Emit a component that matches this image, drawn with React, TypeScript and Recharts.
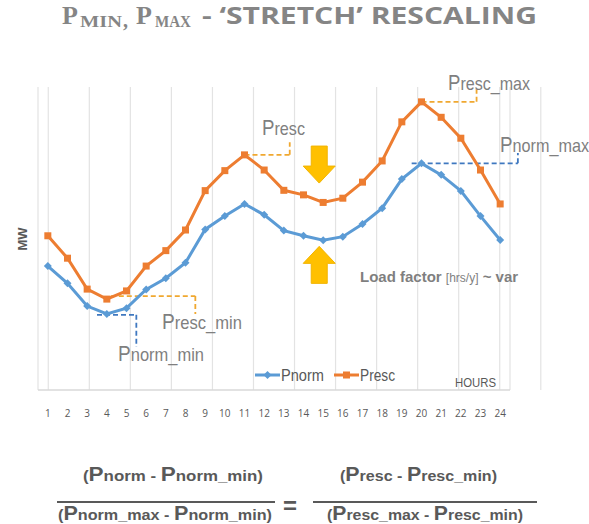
import React from 'react';
import { LineChart, Line, XAxis, YAxis, CartesianGrid, Legend, ReferenceLine, ReferenceDot } from 'recharts';

const hours = [1, 2, 3, 4, 5, 6, 7, 8, 9, 10, 11, 12, 13, 14, 15, 16, 17, 18, 19, 20, 21, 22, 23, 24];
const pNorm = [40.9, 35.2, 27.7, 25.1, 27.0, 33.2, 36.9, 42.0, 53.0, 57.4, 61.4, 57.8, 52.6, 50.9, 49.4, 50.6, 54.8, 60.0, 69.6, 74.8, 71.0, 65.7, 57.4, 49.5];
const pResc = [50.9, 43.5, 33.3, 30.0, 32.7, 40.9, 46.0, 52.8, 65.8, 72.4, 77.6, 72.6, 65.9, 64.4, 61.9, 63.3, 68.6, 75.6, 88.5, 95.1, 90.0, 83.1, 72.6, 61.4];
const gridTicks = [0.5, 1.5, 2.5, 3.5, 4.5, 5.5, 6.5, 7.5, 8.5, 9.5, 10.5, 11.5, 12.5, 13.5, 14.5, 15.5, 16.5, 17.5, 18.5, 19.5, 20.5, 21.5, 22.5, 23.5, 24.5];

// dashed leader lines: [hour, MW] corner points
const rescLeaders = [
  [[11, 77.6], [13.3, 77.6], [13.3, 81.8]],
  [[20, 95.1], [22.8, 95.1], [22.8, 99.7]],
  [[4.2, 31.0], [8.5, 31.0], [8.5, 25.1]],
];
const normLeaders = [
  [[19.5, 74.8], [24.9, 74.8], [24.9, 78.2]],
  [[3.5, 24.8], [5.5, 24.8], [5.5, 14.2]],
];
const arrows = [
  { hour: 14.8, mw: 74.4, dir: 'down' },
  { hour: 14.8, mw: 41.3, dir: 'up' },
];

const data = hours.map((h, i) => ({ hour: h, Pnorm: pNorm[i], Presc: pResc[i] }));

const BLUE = '#5B9BD5';
const ORANGE = '#ED7D31';
const GOLD = '#F0A830';
const DASH_BLUE = '#3F78C0';
const GREY = '#7f7f7f';
const DARK = '#595959';

const SquareDot = (props: any) => {
  const { cx, cy, index } = props;
  return <rect key={`s${index}`} x={cx - 3.5} y={cy - 3.5} width={7} height={7} fill={ORANGE} />;
};

const DiamondDot = (props: any) => {
  const { cx, cy, index } = props;
  return (
    <path key={`d${index}`} d={`M${cx},${cy - 4} L${cx + 4},${cy} L${cx},${cy + 4} L${cx - 4},${cy} Z`} fill={BLUE} />
  );
};

const Arrow = (dir: string) => (props: any) => {
  const { cx, cy } = props;
  const s = dir === 'down' ? 1 : -1;
  const d = [
    [cx - 8, cy - 18.5 * s],
    [cx + 8, cy - 18.5 * s],
    [cx + 8, cy + 1.5 * s],
    [cx + 16, cy + 1.5 * s],
    [cx, cy + 18.5 * s],
    [cx - 16, cy + 1.5 * s],
    [cx - 8, cy + 1.5 * s],
  ]
    .map((p, i) => `${i ? 'L' : 'M'}${p[0]},${p[1]}`)
    .join(' ');
  return <path d={d + ' Z'} fill="#FFC000" stroke="#F2B400" strokeWidth={1} />;
};

const LegendContent = (props: any) => {
  const items = props.payload || [];
  return (
    <svg width={150} height={20}>
      {items.map((it: any, i: number) => {
        const x0 = i * 79;
        const isBlue = it.value === 'Pnorm';
        return (
          <g key={it.value}>
            <line x1={x0 + 2} y1={10} x2={x0 + 27} y2={10} stroke={it.color} strokeWidth={3} />
            {isBlue ? (
              <path d={`M${x0 + 14.5},6 L${x0 + 18.5},10 L${x0 + 14.5},14 L${x0 + 10.5},10 Z`} fill={it.color} />
            ) : (
              <rect x={x0 + 11} y={6.5} width={7} height={7} fill={it.color} />
            )}
            <text x={x0 + 28} y={16} fontSize={16} fill={DARK} fontFamily="Liberation Sans, Arial, sans-serif" textLength={isBlue ? 43 : 35} lengthAdjust="spacingAndGlyphs">
              {it.value}
            </text>
          </g>
        );
      })}
    </svg>
  );
};

const annFont = 'Liberation Sans, Arial, sans-serif';

const Label = ({ x, y, sub, w }: { x: number; y: number; sub: string; w: number }) => (
  <text x={x} y={y} fontSize={22} fill={GREY} fontFamily={annFont} textLength={w} lengthAdjust="spacingAndGlyphs">
    P<tspan fontSize={19}>{sub}</tspan>
  </text>
);

const Frac = ({ x, y, parts, w }: { x: number; y: number; parts: string[]; w: number }) => (
  <text x={x} y={y} fontSize={15} fontWeight="bold" fill={DARK} fontFamily={annFont} textLength={w} lengthAdjust="spacingAndGlyphs">
    {parts.map((p, i) =>
      p === 'P' ? (
        <tspan key={i} fontSize={20}>P</tspan>
      ) : (
        <tspan key={i}>{p}</tspan>
      )
    )}
  </text>
);

export default function App() {
  return (
    <div style={{ position: 'absolute', left: 0, top: 0, width: 589, height: 524, background: '#fff', overflow: 'hidden' }}>
      <LineChart width={589} height={524} data={data} margin={{ top: 87, right: 79, left: 38, bottom: 104 }}>
        <CartesianGrid xAxisId="grid" horizontal={false} stroke="#e3e3e3" strokeWidth={1.2} />
        <XAxis
          dataKey="hour"
          type="number"
          domain={[0.5, 24.5]}
          ticks={hours}
          interval={0}
          height={30}
          axisLine={{ stroke: '#d9d9d9', strokeWidth: 1.5 }}
          tickLine={false}
          tickMargin={14}
          tick={{ fill: DARK, fontSize: 10, fontFamily: 'Open Sans, sans-serif' }}
        />
        <XAxis xAxisId="grid" type="number" domain={[0.5, 24.5]} ticks={gridTicks} hide />
        <YAxis hide domain={[0, 100]} />
        <Legend
          layout="horizontal"
          verticalAlign="middle"
          align="center"
          content={LegendContent}
          wrapperStyle={{ left: 253, top: 365, width: 160 }}
        />
        {rescLeaders.map((pts, i) => (
          <React.Fragment key={`r${i}`}>
            <ReferenceLine segment={[{ x: pts[0][0], y: pts[0][1] }, { x: pts[1][0], y: pts[1][1] }]} stroke={GOLD} strokeWidth={1.8} strokeDasharray="5 3" ifOverflow="visible" />
            <ReferenceLine segment={[{ x: pts[1][0], y: pts[1][1] }, { x: pts[2][0], y: pts[2][1] }]} stroke={GOLD} strokeWidth={1.8} strokeDasharray="5 3" ifOverflow="visible" />
          </React.Fragment>
        ))}
        {normLeaders.map((pts, i) => (
          <React.Fragment key={`n${i}`}>
            <ReferenceLine segment={[{ x: pts[0][0], y: pts[0][1] }, { x: pts[1][0], y: pts[1][1] }]} stroke={DASH_BLUE} strokeWidth={1.8} strokeDasharray="5 3" ifOverflow="visible" />
            <ReferenceLine segment={[{ x: pts[1][0], y: pts[1][1] }, { x: pts[2][0], y: pts[2][1] }]} stroke={DASH_BLUE} strokeWidth={1.8} strokeDasharray="5 3" ifOverflow="visible" />
          </React.Fragment>
        ))}
        {arrows.map((a) => (
          <ReferenceDot key={a.dir} x={a.hour} y={a.mw} r={18} shape={Arrow(a.dir)} ifOverflow="visible" />
        ))}
        <Line dataKey="Pnorm" stroke={BLUE} strokeWidth={3} dot={DiamondDot} activeDot={false} isAnimationActive={false} />
        <Line dataKey="Presc" stroke={ORANGE} strokeWidth={3} dot={SquareDot} activeDot={false} isAnimationActive={false} />
      </LineChart>

      <svg width={589} height={524} style={{ position: 'absolute', left: 0, top: 0, pointerEvents: 'none' }}>
        {/* title */}
        <g fill="#858585" fontWeight="bold">
          <text x={62} y={24} fontSize={26} fontFamily="Liberation Serif, serif">P</text>
          <text x={80} y={27} fontSize={17} fontFamily="Liberation Serif, serif" textLength={42} lengthAdjust="spacingAndGlyphs">MIN</text>
          <text x={123} y={27} fontSize={20} fontFamily="Liberation Serif, serif">,</text>
          <text x={136} y={24} fontSize={26} fontFamily="Liberation Serif, serif">P</text>
          <text x={155} y={27} fontSize={17} fontFamily="Liberation Serif, serif" textLength={36} lengthAdjust="spacingAndGlyphs">MAX</text>
          <text x={202} y={24} fontSize={24} fontFamily="Open Sans, sans-serif" textLength={335} lengthAdjust="spacingAndGlyphs">- ‘STRETCH’ RESCALING</text>
        </g>

        {/* y label */}
        <text x={0} y={0} transform="translate(27,239) rotate(-90)" textAnchor="middle" fontSize={13} fontWeight="bold" fill={DARK} fontFamily={annFont}>MW</text>

        {/* annotation labels */}
        <Label x={262} y={135} sub="resc" w={43} />
        <Label x={448} y={90} sub="resc_max" w={82} />
        <Label x={500} y={152} sub="norm_max" w={89} />
        <Label x={162} y={329} sub="resc_min" w={80} />
        <Label x={118} y={361} sub="norm_min" w={86} />

        <text x={360} y={282} fontSize={15} fill={GREY} fontFamily={annFont} fontWeight="bold">
          Load factor <tspan fontSize={12} fontWeight="normal">[hrs/y]</tspan> ~ var
        </text>

        <text x={455} y={387} fontSize={12} fill={DARK} fontFamily={annFont} textLength={41} lengthAdjust="spacingAndGlyphs">HOURS</text>

        {/* formula */}
        <Frac x={83} y={481} parts={['(', 'P', 'norm - ', 'P', 'norm_min)']} w={180} />
        <line x1={57} y1={502} x2={275} y2={502} stroke={DARK} strokeWidth={2} />
        <Frac x={58} y={520} parts={['(', 'P', 'norm_max - ', 'P', 'norm_min)']} w={214} />
        <text x={283} y={514} fontSize={24} fontWeight="bold" fill={DARK} fontFamily={annFont}>=</text>
        <Frac x={340} y={481} parts={['(', 'P', 'resc - ', 'P', 'resc_min)']} w={157} />
        <line x1={313} y1={502} x2={537} y2={502} stroke={DARK} strokeWidth={2} />
        <Frac x={327} y={520} parts={['(', 'P', 'resc_max - ', 'P', 'resc_min)']} w={196} />
      </svg>
    </div>
  );
}
